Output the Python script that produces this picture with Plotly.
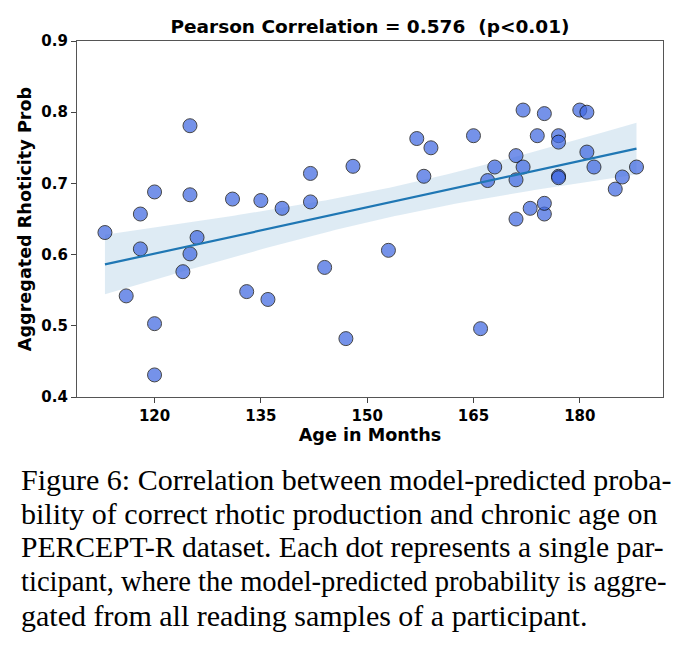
import numpy as np
import plotly.graph_objects as go

# Age in months and aggregated rhoticity probability per participant
age = [113, 116, 118, 118, 120, 120, 120, 124, 125, 125, 125, 126, 131, 133, 135, 136,
       138, 142, 142, 144, 147, 148, 153, 157, 158, 159, 165, 166, 167, 168, 171, 171,
       171, 172, 172, 173, 174, 175, 175, 175, 177, 177, 177, 177, 180, 181, 181, 182,
       185, 186, 188]
prob = [0.631, 0.542, 0.657, 0.608, 0.688, 0.503, 0.431, 0.576, 0.781, 0.684, 0.601, 0.624,
        0.678, 0.548, 0.676, 0.537, 0.665, 0.714, 0.674, 0.582, 0.482, 0.724, 0.606, 0.763,
        0.710, 0.750, 0.767, 0.496, 0.704, 0.723, 0.650, 0.739, 0.705, 0.723, 0.803, 0.665,
        0.767, 0.798, 0.657, 0.672, 0.767, 0.758, 0.710, 0.708, 0.803, 0.800, 0.744, 0.723,
        0.692, 0.709, 0.723]

title_text = "Pearson Correlation = 0.576  (p<0.01)"
x_title = "Age in Months"
y_title = "Aggregated Rhoticity Prob"
x_ticks = [120, 135, 150, 165, 180]
y_ticks = [0.4, 0.5, 0.6, 0.7, 0.8, 0.9]
caption_lines = [
    "Figure 6: Correlation between model-predicted proba-",
    "bility of correct rhotic production and chronic age on",
    "PERCEPT-R dataset. Each dot represents a single par-",
    "ticipant, where the model-predicted probability is aggre-",
    "gated from all reading samples of a participant.",
]
caption_sizes = [30, 30, 29.6, 28.6, 30]

x = np.array(age, dtype=float)
y = np.array(prob, dtype=float)
n = len(x)
slope, intercept = np.polyfit(x, y, 1)
xg = np.linspace(x.min(), x.max(), 100)
yg = intercept + slope * xg
resid = y - (intercept + slope * x)
s = np.sqrt(np.sum(resid ** 2) / (n - 2))
sxx = np.sum((x - x.mean()) ** 2)
tval = 2.01
half = tval * s * np.sqrt(1.0 / n + (xg - x.mean()) ** 2 / sxx)

fig = go.Figure()
fig.add_trace(go.Scatter(
    x=np.concatenate([xg, xg[::-1]]), y=np.concatenate([yg + half, (yg - half)[::-1]]),
    fill="toself", fillcolor="rgba(31,119,180,0.15)", line=dict(width=0),
    hoverinfo="skip", showlegend=False))
fig.add_trace(go.Scatter(
    x=age, y=prob, mode="markers",
    marker=dict(size=14, color="royalblue", opacity=0.72,
                line=dict(color="black", width=1)),
    showlegend=False))
fig.add_trace(go.Scatter(
    x=xg, y=yg, mode="lines", line=dict(color="#1f77b4", width=2.2), showlegend=False))

axis_font = dict(family="DejaVu Sans", size=15, color="black", weight="bold")
label_font = dict(family="DejaVu Sans", size=17.6, color="black", weight="bold")
fig.update_xaxes(range=[109.06, 191.74], tickvals=x_ticks, ticks="outside", ticklen=5,
                 tickcolor="#444", showgrid=False, zeroline=False, showline=True,
                 linecolor="#555", linewidth=1.2, mirror=True, tickfont=axis_font,
                 title=dict(text=x_title, standoff=2, font=label_font))
fig.update_yaxes(range=[0.4, 0.9], tickvals=y_ticks, tickformat=".1f", ticks="outside",
                 ticklen=5, tickcolor="#444", showgrid=False, zeroline=False, showline=True,
                 linecolor="#555", linewidth=1.2, mirror=True, tickfont=axis_font,
                 title=dict(text=y_title, standoff=5, font=label_font))

annotations = []
for i, (line, fs) in enumerate(zip(caption_lines, caption_sizes)):
    annotations.append(dict(
        text=line, xref="paper", yref="paper", x=-0.099, xanchor="left",
        y=-0.232 - i * 0.0953, yanchor="middle", showarrow=False,
        font=dict(family="Liberation Serif", size=fs, color="black")))

fig.update_layout(
    width=691, height=652,
    margin=dict(l=77, r=28, t=41, b=255),
    plot_bgcolor="white", paper_bgcolor="white",
    title=dict(text=title_text, x=0.5, xanchor="center", y=1 - 27 / 652, yanchor="middle",
               xref="paper",
               font=dict(family="DejaVu Sans", size=18.5, color="black", weight="bold")),
    annotations=annotations,
)
fig.write_html("out.html")
